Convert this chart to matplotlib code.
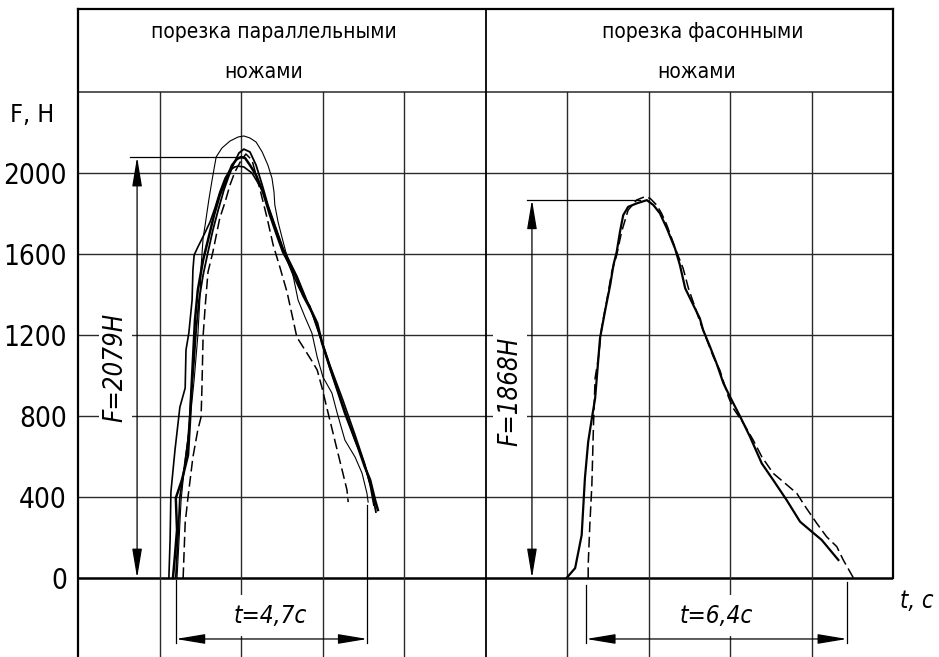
import matplotlib
matplotlib.use("Agg")
import matplotlib.pyplot as plt
from matplotlib.patches import FancyArrowPatch

plt.rcParams['font.family'] = ['DejaVu Sans']
plt.rcParams['font.stretch'] = 'condensed'

# левая панель: порезка параллельными ножами (t, c ; F, H)
t_a = [2.33, 2.38, 2.43, 2.40, 2.55, 2.70, 2.75, 2.77, 2.82, 2.87, 2.94, 3.07, 3.19, 3.34, 3.48, 3.63, 3.78,
       3.90, 4.00, 4.10, 4.22, 4.37, 4.54, 4.71, 4.88, 5.03, 5.20, 5.37, 5.52, 5.74, 5.87, 5.99, 6.26, 6.55,
       6.87, 7.04, 7.17, 7.29, 7.36]
f_a = [0, 114, 237, 395, 484, 607, 780, 879, 1077, 1274, 1422, 1570, 1669, 1793, 1891, 1965, 2039,
       2069, 2079, 2074, 2039, 1990, 1906, 1793, 1694, 1610, 1546, 1481, 1397, 1314, 1259, 1160, 993, 815,
       647, 548, 484, 385, 336]

t_b = [2.43, 2.48, 2.53, 2.63, 2.75, 2.85, 2.94, 2.99, 3.02, 3.07, 3.12, 3.21, 3.29, 3.39, 3.53, 3.73, 3.93,
       4.07, 4.22, 4.37, 4.52, 4.66, 4.76, 4.81, 4.83, 4.91, 5.01, 5.10, 5.25, 5.40, 5.57, 5.74, 5.87, 6.01,
       6.23, 6.36, 6.55, 6.80, 6.97, 7.09, 7.12]
f_b = [0, 188, 385, 583, 780, 978, 1195, 1373, 1536, 1679, 1743, 1867, 1965, 2079, 2123, 2158, 2178,
       2183, 2173, 2153, 2104, 2039, 1975, 1906, 1842, 1758, 1679, 1610, 1521, 1373, 1289, 1210, 1091, 993,
       914, 815, 681, 597, 518, 419, 375]

t_c = [2.40, 2.45, 2.50, 2.60, 2.70, 2.77, 2.85, 2.90, 2.97, 3.07, 3.19, 3.31, 3.44, 3.58, 3.71, 3.83, 3.95,
       4.07, 4.22, 4.37, 4.52, 4.66, 4.83, 5.03, 5.20, 5.37, 5.57, 5.77, 5.94, 6.18, 6.48, 6.80, 7.04, 7.21, 7.31]
f_c = [0, 188, 400, 533, 681, 879, 1077, 1225, 1373, 1496, 1610, 1718, 1817, 1916, 1990, 2049, 2099,
       2118, 2104, 2039, 1941, 1842, 1743, 1629, 1560, 1491, 1393, 1294, 1195, 1037, 864, 681, 558, 435, 326]

t_d = [2.23, 2.26, 2.28, 2.38, 2.50, 2.63, 2.65, 2.72, 2.80, 2.82, 2.85, 2.94, 3.09, 3.24, 3.36, 3.48, 3.61,
       3.73, 3.85, 3.93, 4.07, 4.27, 4.42, 4.54, 4.71, 4.88, 5.08, 5.28, 5.45, 5.69, 5.89, 6.18, 6.50, 6.80,
       7.02, 7.17, 7.26]
f_d = [0, 188, 425, 632, 844, 938, 1126, 1210, 1373, 1521, 1595, 1634, 1694, 1758, 1827, 1906, 1975,
       2015, 2030, 2034, 2030, 2000, 1950, 1906, 1807, 1709, 1595, 1496, 1422, 1343, 1225, 1052, 879, 706,
       573, 459, 360]

t_e = [2.58, 2.63, 2.70, 2.82, 2.94, 3.02, 3.04, 3.07, 3.12, 3.19, 3.31, 3.41, 3.48, 3.61, 3.73, 3.85, 3.98,
       4.12, 4.27, 4.37, 4.47, 4.64, 4.79, 4.96, 5.13, 5.28, 5.37, 5.57, 5.77, 5.87, 5.99, 6.09, 6.21, 6.36,
       6.50, 6.60, 6.63]
f_e = [0, 272, 400, 597, 731, 795, 928, 1195, 1338, 1511, 1610, 1709, 1778, 1857, 1941, 2005, 2054,
       2094, 2064, 1990, 1916, 1778, 1644, 1531, 1412, 1274, 1190, 1126, 1062, 1027, 938, 854, 756, 632,
       518, 435, 375]

# правая панель: порезка фасонными ножами
t_r = [11.99, 12.20, 12.36, 12.44, 12.52, 12.61, 12.69, 12.81, 12.93, 13.06, 13.14, 13.22, 13.30, 13.38,
       13.50, 13.71, 13.96, 14.12, 14.28, 14.45, 14.65, 14.77, 14.90, 15.10, 15.26, 15.34, 15.51, 15.67,
       15.84, 16.00, 16.25, 16.49, 16.78, 17.06, 17.39, 17.72, 17.96, 18.25, 18.66]
f_r = [0, 49, 212, 494, 673, 789, 887, 1184, 1315, 1447, 1546, 1611, 1710, 1792,
       1833, 1850, 1866, 1842, 1801, 1727, 1628, 1546, 1431, 1348, 1282, 1225, 1142, 1060,
       961, 895, 797, 698, 566, 484, 385, 278, 237, 188, 89]

t_rd = [12.52, 12.52, 12.56, 12.61, 12.65, 12.69, 12.77, 12.85, 12.97, 13.10, 13.22, 13.34, 13.50, 13.71,
        13.91, 14.04, 14.20, 14.32, 14.45, 14.69, 14.85, 14.98, 15.18, 15.26, 15.59, 15.75, 15.96, 16.08,
        16.33, 16.57, 16.78, 17.06, 17.35, 17.64, 17.85, 18.13, 18.37, 18.62, 18.78, 19.03]
f_rd = [0, 64, 262, 459, 756, 988, 1086, 1235, 1364, 1513, 1595, 1710, 1817, 1867,
        1883, 1875, 1842, 1801, 1743, 1611, 1529, 1431, 1315, 1266, 1093, 1027, 895, 838,
        764, 681, 599, 517, 468, 418, 352, 270, 204, 155, 89, 0]

f_ticks = [0, 400, 800, 1200, 1600, 2000]
t_grid = [2, 4, 6, 8, 12, 14, 16, 18]
headers_top = ['порезка параллельными', 'порезка фасонными']
headers_bottom = ['ножами', 'ножами']
f_max = [2079, 1868]
t_start = [2.40, 12.47]
t_dur = [4.7, 6.4]

fig = plt.figure(figsize=(9.39, 6.57), dpi=100)
ax = fig.add_axes([78 / 939, 0, 815 / 939, 648 / 657])
ax.set_xlim(0, 20)
ax.set_ylim(-390, 2810)
for s in ax.spines.values():
    s.set_visible(False)
ax.set_xticks([])
ax.set_yticks(f_ticks, labels=[str(v) for v in f_ticks])
ax.tick_params(axis='y', length=0, pad=8, labelsize=20)

gc = '#2a2a2a'
# сетка
for f in f_ticks[1:]:
    ax.plot([0, 20], [f, f], color=gc, lw=1.0, zorder=1)
ax.plot([0, 20], [2400, 2400], color=gc, lw=1.1, zorder=1)
ax.plot([0, 20], [0, 0], color='black', lw=1.8, zorder=1)
for t in t_grid:
    ax.plot([t, t], [-390, 2400], color=gc, lw=1.0, zorder=1)
# рамка
ax.plot([0, 20], [2810, 2810], color='black', lw=1.6, clip_on=False, zorder=1)
ax.plot([0, 0], [-390, 2810], color='black', lw=1.6, clip_on=False, zorder=1)
ax.plot([10, 10], [-390, 2810], color='black', lw=1.3, clip_on=False, zorder=1)
ax.plot([20, 20], [0, 2810], color='black', lw=1.6, clip_on=False, zorder=1)

# кривые
ax.plot(t_b, f_b, color='black', lw=0.8, zorder=3)
ax.plot(t_d, f_d, color='black', lw=1.2, zorder=3)
ax.plot(t_c, f_c, color='black', lw=1.3, zorder=3)
ax.plot(t_a, f_a, color='black', lw=1.8, zorder=3)
ax.plot(t_e, f_e, color='black', lw=1.1, ls=(0, (7, 3)), zorder=3)
ax.plot(t_r, f_r, color='black', lw=1.6, zorder=3)
ax.plot(t_rd, f_rd, color='black', lw=1.1, ls=(0, (7, 3)), zorder=3)

# заголовки
hs = 15
ax.text(4.81, 2696, headers_top[0], ha='center', va='center', fontsize=hs)
ax.text(4.56, 2499, headers_bottom[0], ha='center', va='center', fontsize=hs)
ax.text(15.33, 2696, headers_top[1], ha='center', va='center', fontsize=hs)
ax.text(15.17, 2499, headers_bottom[1], ha='center', va='center', fontsize=hs)
ax.text(-1.67, 2286, 'F, H', ha='left', va='center', fontsize=18, clip_on=False)
ax.text(20.59, -114, 't, c', ha='center', va='center', fontsize=17, style='italic', clip_on=False)

wb = dict(facecolor='white', edgecolor='none', boxstyle='square,pad=0.15')
ast = "<|-|>,head_length=18,head_width=3"

# размер по силе
dim_x = [1.45, 11.14]
ext_x0 = [1.28, 11.02]
ext_x1 = [4.0, 13.79]
lab_x = [0.92, 10.60]
lab_y = [1042, 923]
for i in range(2):
    ax.text(lab_x[i], lab_y[i], 'F=%dH' % f_max[i], rotation=90, ha='center', va='center',
            fontsize=18.5, style='italic', bbox=wb, zorder=4)
    ax.plot([ext_x0[i], ext_x1[i]], [f_max[i], f_max[i]], color='black', lw=0.9, zorder=5)
    ax.add_patch(FancyArrowPatch((dim_x[i], f_max[i]), (dim_x[i], 0), arrowstyle=ast, mutation_scale=1,
                                 shrinkA=0, shrinkB=0, color='black', lw=0.9, zorder=5))

# размер по времени
ext_top0 = [-10, -35]
ext_top1 = [360, -20]
t_lab_x = [4.71, 15.66]
for i in range(2):
    t1 = t_start[i] + t_dur[i]
    ax.text(t_lab_x[i], -186, 't=%sc' % str(t_dur[i]).replace('.', ','), ha='center', va='center',
            fontsize=17.5, style='italic', bbox=dict(facecolor='white', edgecolor='none',
                                                     boxstyle='square,pad=0.35'), zorder=4)
    ax.plot([t_start[i], t_start[i]], [ext_top0[i], -321], color='black', lw=0.9, zorder=5)
    ax.plot([t1, t1], [ext_top1[i], -321], color='black', lw=0.9, zorder=5)
    ax.add_patch(FancyArrowPatch((t_start[i], -301), (t1, -301), arrowstyle=ast, mutation_scale=1,
                                 shrinkA=0, shrinkB=0, color='black', lw=0.9, zorder=5))

fig.savefig('out.png', dpi=100)
